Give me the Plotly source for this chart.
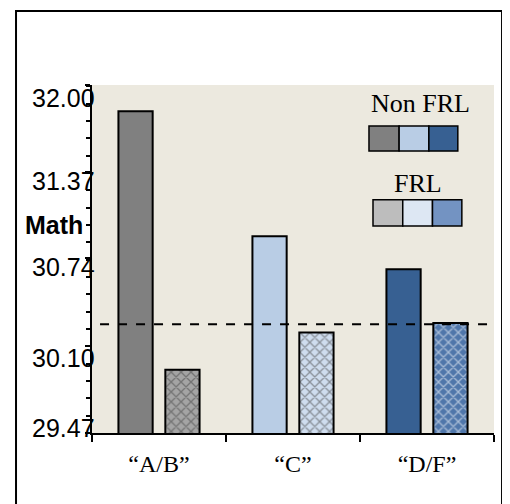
import numpy as np
import plotly.graph_objects as go

categories = ["“A/B”", "“C”", "“D/F”"]
non_frl = [31.81, 30.90, 30.66]
frl = [29.93, 30.20, 30.27]
overall_avg = 30.26
y_ticks = [29.47, 30.10, 30.74, 31.37, 32.00]
y_tick_labels = ["29.47", "30.10", "30.74", "31.37", "32.00"]
y_min, y_max = 29.47, 32.00

solid_colors = ["#808080", "#B9CDE5", "#376092"]
pattern_bg = ["#A4A4A4", "#CFDDEF", "#4F76AA"]
legend_frl_colors = ["#BDBDBD", "#DDE7F3", "#7393C2"]

fig = go.Figure()
fig.add_trace(go.Bar(
    x=categories, y=non_frl, name="Non FRL",
    marker=dict(color=solid_colors, line=dict(color="black", width=2)),
))
fig.add_trace(go.Bar(
    x=categories, y=frl, name="FRL",
    marker=dict(color=pattern_bg, line=dict(color="black", width=2),
                pattern=dict(shape="x", fgcolor="white", bgcolor=pattern_bg,
                             size=7, solidity=0.35, fillmode="overlay")),
))

# dashed average line
fig.add_shape(type="line", xref="paper", yref="y", x0=0.02, x1=1,
              y0=overall_avg, y1=overall_avg,
              line=dict(color="black", width=2, dash="dash"))

# outer frame
fig.add_shape(type="rect", xref="paper", yref="paper",
              x0=-0.189, x1=1.02, y0=-0.3, y1=1.2126,
              line=dict(color="black", width=2), fillcolor="rgba(0,0,0,0)",
              layer="above")

# custom legend
row1_x = [0.689, 0.764, 0.838, 0.910]
row2_x = [0.699, 0.773, 0.847, 0.920]
for i in range(3):
    fig.add_shape(type="rect", xref="paper", yref="paper",
                  x0=row1_x[i], x1=row1_x[i + 1], y0=0.810, y1=0.882,
                  fillcolor=solid_colors[i], line=dict(color="black", width=1.5))
    fig.add_shape(type="rect", xref="paper", yref="paper",
                  x0=row2_x[i], x1=row2_x[i + 1], y0=0.595, y1=0.670,
                  fillcolor=legend_frl_colors[i], line=dict(color="black", width=1.5))
fig.add_annotation(text="Non FRL", xref="paper", yref="paper", x=0.816, y=0.948,
                   xanchor="center", yanchor="middle",
                   showarrow=False, font=dict(family="Liberation Serif", size=26, color="black"))
fig.add_annotation(text="FRL", xref="paper", yref="paper", x=0.811, y=0.718,
                   xanchor="center", yanchor="middle",
                   showarrow=False, font=dict(family="Liberation Serif", size=26, color="black"))

# y tick labels
label_shifts = [5, -12, -9, -9, -13]
for v, t, s in zip(y_ticks, y_tick_labels, label_shifts):
    fig.add_annotation(text=t, xref="paper", yref="y", x=0, y=v, xanchor="right",
                       yanchor="middle", xshift=5, yshift=s, showarrow=False,
                       font=dict(family="Liberation Sans", size=25, color="black"))
fig.add_annotation(text="<b>Math</b>", xref="paper", yref="paper", x=-0.017, y=0.598,
                   xanchor="right", yanchor="middle", showarrow=False,
                   font=dict(family="Liberation Sans", size=25, color="black"))

minor_step = (y_ticks[1] - y_ticks[0]) / 5
fig.update_layout(
    width=510, height=504,
    margin=dict(l=84, r=24, t=77, b=79),
    paper_bgcolor="white", plot_bgcolor="#ECE9DF",
    barmode="group", bargap=0.3, bargroupgap=0.27,
    showlegend=False,
    xaxis=dict(showline=True, linecolor="black", linewidth=2, ticks="outside",
               tickson="boundaries", ticklen=7, tickwidth=2, tickcolor="black",
               showgrid=False, zeroline=False, ticklabelstandoff=8,
               tickfont=dict(family="Liberation Serif", size=24, color="black")),
    yaxis=dict(range=[y_min, y_max], showline=True, linecolor="black", linewidth=2,
               tickmode="array", tickvals=y_ticks, showticklabels=False,
               ticks="outside", ticklen=5, tickwidth=2, tickcolor="black",
               minor=dict(ticks="outside", ticklen=4, tickwidth=2, tickcolor="black",
                          tick0=y_min, dtick=minor_step, showgrid=False),
               showgrid=False, zeroline=False),
)

fig.write_html("out.html")
